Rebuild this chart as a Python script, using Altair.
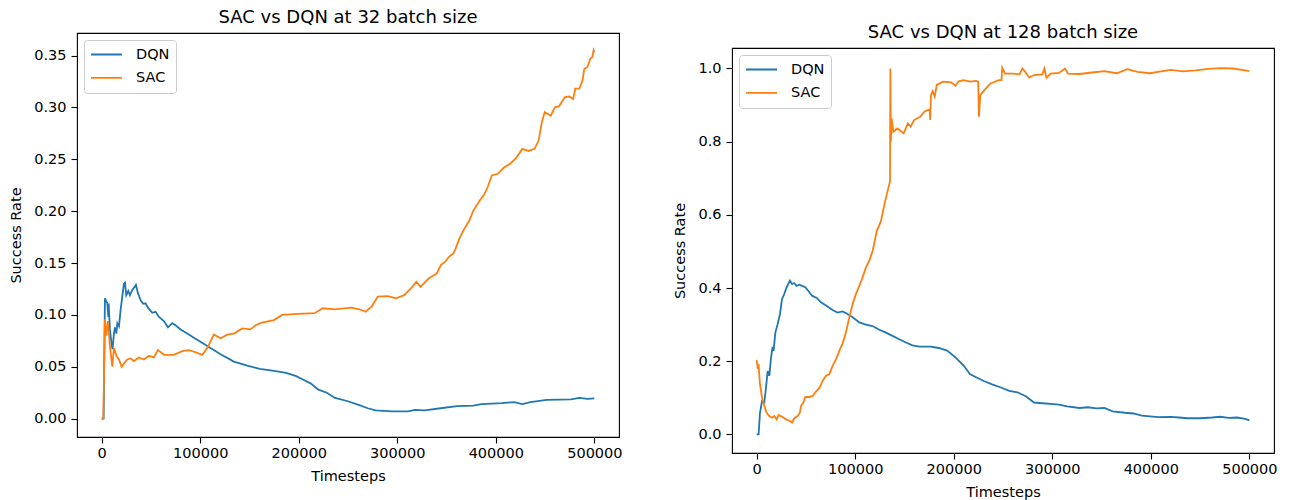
import altair as alt
import pandas as pd

# ---------------- 32 batch size run ----------------
dqn32_steps = [0, 2000, 3350, 4800, 5800, 6800, 7100, 8400, 9800, 11000, 12500, 13500, 14900,
               15900, 17600, 19300, 21000, 22600, 23700, 25000, 27000, 28700, 31100, 33500,
               34800, 36800, 39600, 42000, 44700, 47000, 51400, 54800, 58100, 63200, 67300,
               71700, 75000, 80100, 86900, 92000, 97000, 107200, 120700, 134200, 147700,
               160500, 175000, 187200, 197500, 203700, 212000, 220000, 228500, 236800,
               249000, 261600, 270000, 278000, 294600, 311000, 318000, 327700, 344000,
               360700, 377300, 385500, 406200, 418600, 426900, 435100, 451600, 476400,
               484700, 493000, 500000]
dqn32_rate = [0.0, 0.0, 0.116, 0.113, 0.111, 0.098, 0.111, 0.086, 0.074, 0.067, 0.082, 0.088,
              0.082, 0.092, 0.089, 0.105, 0.118, 0.130, 0.131, 0.119, 0.123, 0.119, 0.124,
              0.127, 0.129, 0.121, 0.114, 0.111, 0.111, 0.107, 0.102, 0.103, 0.098, 0.094,
              0.088, 0.092, 0.090, 0.086, 0.082, 0.079, 0.076, 0.070, 0.062, 0.055, 0.051,
              0.048, 0.046, 0.044, 0.041, 0.038, 0.034, 0.028, 0.025, 0.020, 0.017, 0.013,
              0.010, 0.008, 0.007, 0.007, 0.0085, 0.008, 0.010, 0.012, 0.0125, 0.014, 0.015,
              0.016, 0.014, 0.016, 0.018, 0.0186, 0.020, 0.019, 0.0195]

sac32_steps = [0, 1700, 3350, 4800, 6400, 8400, 10850, 12500, 15200, 17600, 20300, 22600,
               26000, 29400, 32800, 37800, 42900, 48000, 53000, 57100, 63200, 73300, 81800,
               88500, 95300, 102100, 107200, 113900, 120700, 127500, 134200, 142700, 151100,
               156200, 162400, 174800, 183100, 199600, 216100, 224400, 236800, 253300,
               261600, 267800, 274000, 280200, 290500, 298800, 307000, 315300, 319400,
               323600, 331800, 340100, 344200, 348300, 352500, 356600, 358700, 362800,
               366900, 373100, 377300, 383500, 387600, 391700, 395900, 402100, 408300,
               414500, 420700, 426900, 433100, 439300, 443400, 446700, 449600, 455800,
               460000, 464000, 470200, 474400, 478500, 480600, 484700, 488000, 489700,
               493000, 495900, 497900, 499200, 500000]
sac32_rate = [0.0, 0.0, 0.096, 0.080, 0.094, 0.070, 0.050, 0.068, 0.060, 0.057, 0.050, 0.053,
              0.057, 0.058, 0.0555, 0.059, 0.057, 0.0605, 0.059, 0.066, 0.0615, 0.0615, 0.065,
              0.066, 0.064, 0.0615, 0.068, 0.081, 0.0775, 0.081, 0.082, 0.087, 0.086, 0.090,
              0.0926, 0.095, 0.100, 0.101, 0.1016, 0.1064, 0.1054, 0.107, 0.1054, 0.103,
              0.108, 0.1176, 0.118, 0.116, 0.119, 0.127, 0.132, 0.127, 0.135, 0.140, 0.148,
              0.151, 0.156, 0.159, 0.1625, 0.173, 0.181, 0.191, 0.2006, 0.210, 0.215, 0.223,
              0.2344, 0.236, 0.242, 0.2456, 0.2514, 0.260, 0.258, 0.260, 0.268, 0.2857,
              0.2954, 0.292, 0.300, 0.301, 0.310, 0.3105, 0.308, 0.318, 0.318, 0.326, 0.337,
              0.339, 0.347, 0.3484, 0.355, 0.353]

# ---------------- 128 batch size run ----------------
dqn128_steps = [0, 2000, 3400, 5500, 7800, 9500, 11200, 12900, 14600, 16200, 17200, 19000,
                21300, 23700, 25800, 28100, 30400, 33800, 35900, 38200, 40600, 43300, 46000,
                49400, 52700, 56200, 60900, 65300, 70400, 77100, 82100, 87200, 92300, 97400,
                104200, 110900, 117600, 124400, 131200, 137900, 144700, 151500, 158200,
                165000, 176500, 184900, 193300, 201700, 210100, 216400, 222700, 231100,
                239500, 247900, 256300, 264700, 273100, 281500, 289900, 298300, 306700,
                315100, 327700, 336100, 344500, 352900, 361300, 373900, 382400, 390800,
                399200, 407600, 420200, 428600, 437000, 449600, 462200, 470600, 479000,
                487400, 495800, 500000]
dqn128_rate = [0.0, 0.0, 0.059, 0.091, 0.087, 0.128, 0.173, 0.160, 0.210, 0.239, 0.228, 0.278,
               0.301, 0.329, 0.370, 0.384, 0.402, 0.420, 0.411, 0.413, 0.406, 0.409, 0.406,
               0.402, 0.391, 0.379, 0.373, 0.361, 0.352, 0.340, 0.333, 0.336, 0.329, 0.320,
               0.306, 0.300, 0.296, 0.286, 0.278, 0.269, 0.260, 0.251, 0.243, 0.240, 0.240,
               0.236, 0.229, 0.2105, 0.188, 0.165, 0.156, 0.145, 0.136, 0.128, 0.119, 0.115,
               0.104, 0.087, 0.085, 0.083, 0.081, 0.0765, 0.072, 0.074, 0.071, 0.072, 0.063,
               0.059, 0.057, 0.051, 0.049, 0.047, 0.048, 0.046, 0.044, 0.044, 0.046, 0.048,
               0.045, 0.046, 0.042, 0.038]

sac128_steps = [0, 1000, 2000, 3400, 5500, 7800, 10100, 12900, 15600, 17900, 20300, 22300,
                25800, 29800, 33800, 35900, 38200, 41600, 43900, 45000, 47400, 49400, 53400,
                56800, 60200, 63600, 66900, 70400, 73700, 77100, 80500, 83900, 87200, 90600,
                94000, 97400, 100800, 104200, 107500, 110900, 114300, 117600, 121800, 126100,
                130300, 133600, 135300, 135700, 136200, 137000, 138700, 142900, 147100,
                149200, 153400, 156300, 159700, 166000, 170200, 175600, 176100, 176900,
                178600, 180700, 182800, 189100, 197500, 201700, 205000, 210100, 216400,
                222700, 224800, 225600, 226900, 231100, 237400, 245800, 248500, 249200,
                252100, 260500, 266800, 269700, 273100, 276500, 281500, 289900, 292000,
                294100, 298300, 306700, 313000, 316000, 327700, 340300, 352900, 365500,
                376000, 386600, 399200, 411800, 420200, 432800, 445400, 458000, 470600,
                483200, 495800, 500000]
sac128_rate = [0.203, 0.184, 0.188, 0.137, 0.100, 0.078, 0.059, 0.050, 0.0455, 0.050, 0.041,
               0.053, 0.048, 0.041, 0.0365, 0.032, 0.044, 0.050, 0.059, 0.0775, 0.087, 0.102,
               0.102, 0.105, 0.117, 0.126, 0.146, 0.160, 0.164, 0.187, 0.205, 0.228, 0.248,
               0.278, 0.319, 0.356, 0.384, 0.406, 0.429, 0.456, 0.475, 0.500, 0.555, 0.582,
               0.636, 0.673, 0.691, 1.0, 0.800, 0.864, 0.827, 0.836, 0.827, 0.823, 0.850,
               0.841, 0.859, 0.868, 0.882, 0.889, 0.859, 0.927, 0.938, 0.923, 0.955, 0.964,
               0.962, 0.953, 0.965, 0.968, 0.964, 0.966, 0.964, 0.868, 0.927, 0.941, 0.959,
               0.968, 0.968, 1.002, 0.986, 0.986, 0.984, 1.0, 0.989, 0.975, 0.982, 0.984,
               1.0, 0.975, 0.986, 0.988, 1.0, 0.986, 0.985, 0.989, 0.993, 0.987, 0.998, 0.991,
               0.987, 0.993, 0.996, 0.992, 0.995, 0.999, 1.001, 1.0, 0.995, 0.993]

SERIES = ["DQN", "SAC"]
COLORS = ["#1f77b4", "#ff7f0e"]
X_TICKS = [0, 100000, 200000, 300000, 400000, 500000]
FONT = "DejaVu Sans"


def run_frame(steps, rates, algo):
    return pd.DataFrame({"Timesteps": steps, "Success Rate": rates,
                         "algo": algo, "order": list(range(len(steps)))})


def panel(frames, title, y_domain, y_ticks, y_format, height):
    data = pd.concat(frames, ignore_index=True)
    return alt.Chart(data).mark_line(strokeWidth=1.8, clip=True).encode(
        x=alt.X("Timesteps:Q",
                scale=alt.Scale(domain=[-25000, 525000], nice=False, zero=False),
                axis=alt.Axis(values=X_TICKS, format="d", title="Timesteps")),
        y=alt.Y("Success Rate:Q",
                scale=alt.Scale(domain=y_domain, nice=False, zero=False),
                axis=alt.Axis(values=y_ticks, format=y_format, title="Success Rate")),
        color=alt.Color("algo:N", scale=alt.Scale(domain=SERIES, range=COLORS),
                        legend=alt.Legend(title=None)),
        detail="algo:N",
        order="order:Q",
    ).properties(width=542, height=height, title=title)


def gap(px):
    # invisible strip used to set a panel's vertical position
    return alt.Chart(pd.DataFrame({"gap": [0]})).mark_rule(opacity=0).encode(
        x=alt.value(0), y=alt.value(0), y2=alt.value(px)
    ).properties(width=1, height=px, view=alt.ViewBackground(strokeOpacity=0))


left = panel(
    [run_frame(dqn32_steps, dqn32_rate, "DQN"), run_frame(sac32_steps, sac32_rate, "SAC")],
    "SAC vs DQN at 32 batch size",
    [-0.0177, 0.3717], [0, 0.05, 0.10, 0.15, 0.20, 0.25, 0.30, 0.35], ".2f", 404,
)

right = panel(
    [run_frame(dqn128_steps, dqn128_rate, "DQN"), run_frame(sac128_steps, sac128_rate, "SAC")],
    "SAC vs DQN at 128 batch size",
    [-0.051, 1.056], [0, 0.2, 0.4, 0.6, 0.8, 1.0], ".1f", 405,
)

left_col = alt.vconcat(gap(1), left, spacing=0).resolve_scale(color="independent")
right_col = alt.vconcat(gap(16), right, spacing=0).resolve_scale(color="independent")

chart = alt.hconcat(left_col, right_col, spacing=49).resolve_scale(
    x="independent", y="independent", color="independent"
).properties(
    padding={"left": 8, "top": 7, "right": 5, "bottom": 3}
).configure_view(
    stroke="black", strokeWidth=1.1
).configure_axis(
    labelFont=FONT, labelFontSize=14.5, labelColor="black", labelPadding=5,
    titleFont=FONT, titleFontSize=14.5, titleFontWeight="normal", titleColor="black",
    grid=False, domain=False, tickColor="black", tickSize=6, tickWidth=1.1,
).configure_axisY(
    titlePadding=10
).configure_axisX(
    labelPadding=3.5, titlePadding=9
).configure_title(
    font=FONT, fontSize=18, fontWeight="normal", color="black", offset=6
).configure_legend(
    orient="top-left", offset=7, padding=6, fillColor="white", strokeColor="#cccccc",
    cornerRadius=3, symbolType="stroke", symbolSize=961, symbolStrokeWidth=1.8,
    clipHeight=17, rowPadding=6.4,
    labelFont=FONT, labelFontSize=14.5, labelColor="black", labelOffset=13,
)

chart.save("out.html", embed_options={"renderer": "svg", "actions": False})
